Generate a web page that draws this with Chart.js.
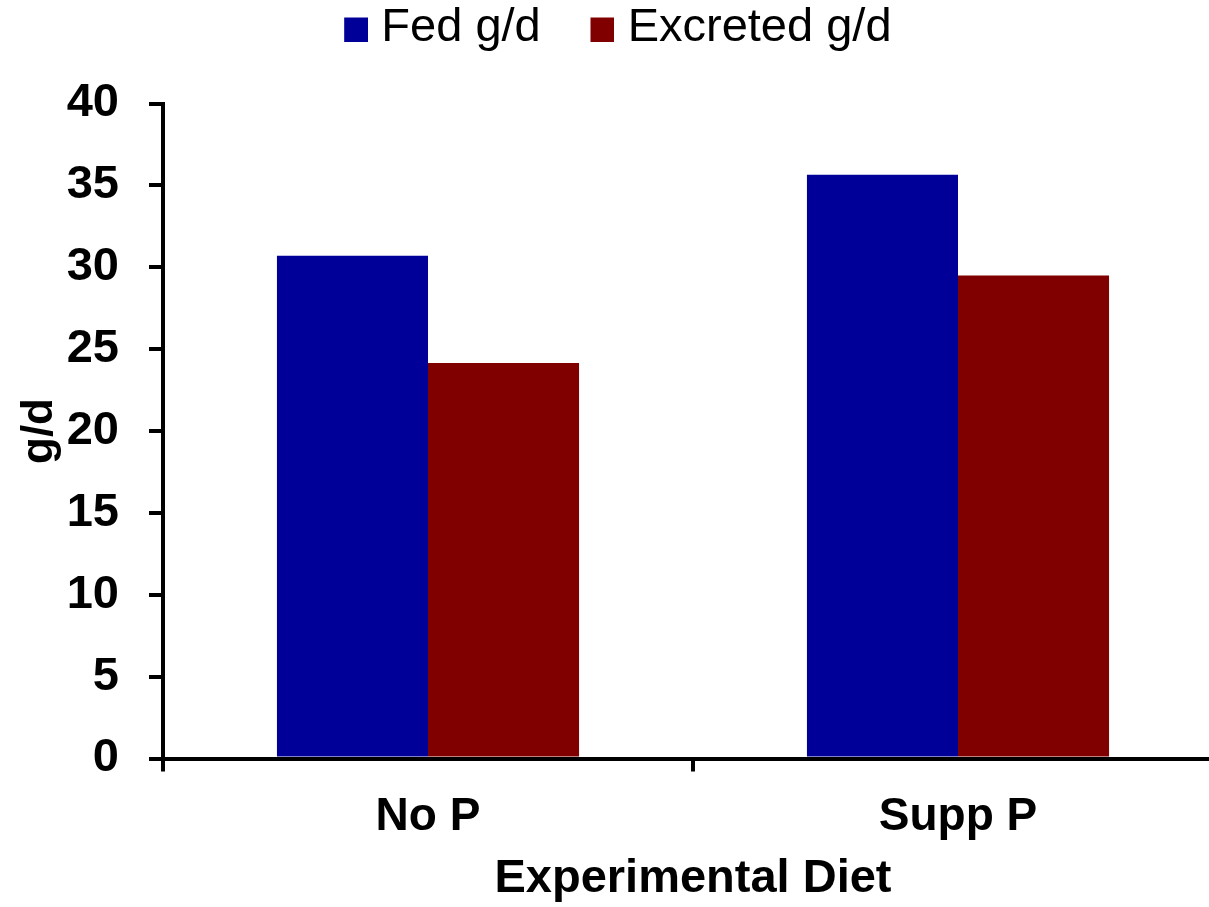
<!DOCTYPE html>
<html>
<head>
<meta charset="utf-8">
<script src="https://cdn.jsdelivr.net/npm/chart.js@4.4.1/dist/chart.umd.min.js"></script>
<style>
  html, body { margin: 0; padding: 0; background: #ffffff; overflow: hidden; }
  #wrap { width: 1223px; height: 907px; }
  canvas { display: block; }
</style>
</head>
<body>
<div id="wrap"><canvas id="c" width="1223" height="907"></canvas></div>
<script>
// ---- data ----
const categories = ['No P', 'Supp P'];
const seriesLabels = ['Fed g/d', 'Excreted g/d'];
const fedValues = [30.7, 35.65];
const excretedValues = [24.15, 29.5];
const yMin = 0;
const yMax = 40;
const yStep = 5;
const xTitle = 'Experimental Diet';
const yTitle = 'g/d';

// ---- styles ----
const colors = ['#000099', '#800000'];
const FONT = '"Liberation Sans", Arial, Helvetica, sans-serif';

function swatch(color) {
  const c = document.createElement('canvas');
  c.width = 79; c.height = 26;
  const g = c.getContext('2d');
  g.fillStyle = color;
  g.fillRect(55, 2, 24, 24);
  return c;
}
const swatches = colors.map(swatch);

const placeLegend = {
  id: 'placeLegend',
  afterLayout(chart) {
    const lg = chart.legend;
    if (lg) {
      const dy = lg.top;
      lg.top -= dy; lg.bottom -= dy;
      lg.left -= 16; lg.right -= 16;
    }
  }
};

new Chart(document.getElementById('c'), {
  type: 'bar',
  data: {
    labels: categories,
    datasets: [
      { label: seriesLabels[0], data: fedValues, backgroundColor: colors[0], borderWidth: 0 },
      { label: seriesLabels[1], data: excretedValues, backgroundColor: colors[1], borderWidth: 0 }
    ]
  },
  plugins: [placeLegend],
  options: {
    responsive: false,
    devicePixelRatio: 1,
    animation: false,
    layout: { padding: 0 },
    datasets: { bar: { categoryPercentage: 0.57, barPercentage: 1.0 } },
    plugins: {
      tooltip: { enabled: false },
      title: { display: false },
      legend: {
        display: true,
        position: 'top',
        labels: {
          usePointStyle: true,
          pointStyleWidth: 58.4,
          boxHeight: 24,
          padding: 5,
          color: '#000',
          font: { family: FONT, size: 47, weight: 'normal' },
          generateLabels: (chart) =>
            Chart.defaults.plugins.legend.labels.generateLabels(chart).map((it, i) =>
              Object.assign({}, it, { pointStyle: swatches[i] }))
        }
      }
    },
    scales: {
      x: {
        type: 'category',
        offset: true,
        grid: {
          offset: true,
          drawOnChartArea: false,
          drawTicks: true,
          tickLength: 13,
          color: '#000',
          lineWidth: 4
        },
        border: { display: true, color: '#000', width: 4 },
        ticks: {
          color: '#000',
          padding: 18,
          maxRotation: 0,
          font: { family: FONT, size: 46, weight: 'bold' }
        },
        title: {
          display: true,
          text: xTitle,
          color: '#000',
          padding: { top: 0, bottom: 0 },
          font: { family: FONT, size: 47, weight: 'bold' }
        },
        afterFit(scale) { scale.height = 148.5; }
      },
      y: {
        type: 'linear',
        min: yMin,
        max: yMax,
        grid: {
          drawOnChartArea: false,
          drawTicks: true,
          tickLength: 14,
          color: '#000',
          lineWidth: 4
        },
        border: { display: true, color: '#000', width: 4 },
        ticks: {
          stepSize: yStep,
          color: '#000',
          padding: 30,
          font: { family: FONT, size: 47, weight: 'bold' }
        },
        title: {
          display: true,
          text: yTitle,
          color: '#000',
          padding: { top: 13, bottom: 0 },
          font: { family: FONT, size: 44, weight: 'bold' }
        },
        afterFit(scale) { scale.width = 163; scale.paddingTop = 103.5; }
      }
    }
  }
});
</script>
</body>
</html>
